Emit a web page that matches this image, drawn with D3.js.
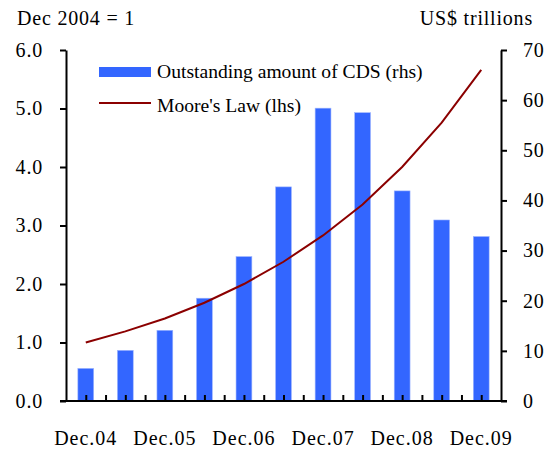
<!DOCTYPE html>
<html>
<head>
<meta charset="utf-8">
<script src="https://cdn.jsdelivr.net/npm/d3@7"></script>
<style>
  html, body { margin: 0; padding: 0; background: #fff; }
  svg text { font-family: "Liberation Serif", "Times New Roman", serif; fill: #000; }
</style>
</head>
<body>
<svg id="chart" width="553" height="453"></svg>
<script>
// Half-yearly observation periods
const periods = ["Dec.04", "Jun.05", "Dec.05", "Jun.06", "Dec.06", "Jun.07",
                 "Dec.07", "Jun.08", "Dec.08", "Jun.09", "Dec.09"];
// Outstanding amount of CDS, US$ trillions (right axis)
const cdsOutstanding = [6.5, 10.1, 14.1, 20.5, 28.8, 42.7, 58.4, 57.5, 41.9, 36.1, 32.8];
// Moore's Law index, Dec 2004 = 1 (left axis)
const mooresLaw = [1.00, 1.19, 1.41, 1.68, 2.00, 2.38, 2.83, 3.36, 4.00, 4.76, 5.66];
// Axis tick values and labels
const leftTicks = [0, 1, 2, 3, 4, 5, 6];
const rightTicks = [0, 10, 20, 30, 40, 50, 60, 70];
const xTickLabels = ["Dec.04", "Dec.05", "Dec.06", "Dec.07", "Dec.08", "Dec.09"];

const svg = d3.select("#chart");
const plot = { left: 66, right: 501, top: 50, bottom: 401 };
const fontSize = 20;
const spacing = 0.8;

const x = d3.scaleBand().domain(periods).range([plot.left, plot.right]).padding(0);
const yLeft = d3.scaleLinear().domain([0, 6]).range([plot.bottom, plot.top]);
const yRight = d3.scaleLinear().domain([0, 70]).range([plot.bottom, plot.top]);
// Continuous position along the category axis, used for half-period ticks
const xPos = d3.scaleLinear().domain([0, periods.length]).range([plot.left, plot.right]);

const barW = x.bandwidth() * 0.4;

// Bars: CDS outstanding
svg.append("g")
  .selectAll("rect")
  .data(periods)
  .join("rect")
  .attr("x", (d) => x(d) + (x.bandwidth() - barW) / 2)
  .attr("y", (d, i) => yRight(cdsOutstanding[i]))
  .attr("width", barW)
  .attr("height", (d, i) => plot.bottom - yRight(cdsOutstanding[i]))
  .attr("fill", "#3366ff")
  .attr("stroke", "#9db5ff")
  .attr("stroke-width", 0.6);

// Line: Moore's Law
const line = d3.line()
  .x((d, i) => x(periods[i]) + x.bandwidth() / 2)
  .y((d) => yLeft(d));
svg.append("path")
  .datum(mooresLaw)
  .attr("d", line)
  .attr("fill", "none")
  .attr("stroke", "#8b0000")
  .attr("stroke-width", 2);

// Left axis
const leftAxis = svg.append("g")
  .attr("transform", `translate(${plot.left},0)`)
  .call(d3.axisLeft(yLeft).tickValues(leftTicks).tickFormat(d3.format(".1f"))
    .tickSizeInner(6).tickSizeOuter(0).tickPadding(17));

// Right axis
const rightAxis = svg.append("g")
  .attr("transform", `translate(${plot.right},0)`)
  .call(d3.axisRight(yRight).tickValues(rightTicks).tickFormat(d3.format("d"))
    .tickSizeInner(6).tickSizeOuter(0).tickPadding(16));

// Bottom axis: short inward ticks every half period
const halfSteps = d3.range(1, periods.length * 2).map((k) => k / 2);
const bottomAxis = svg.append("g")
  .attr("transform", `translate(0,${plot.bottom})`)
  .call(d3.axisBottom(xPos).tickValues(halfSteps).tickFormat("")
    .tickSizeInner(-6).tickSizeOuter(0));

[leftAxis, rightAxis, bottomAxis].forEach((g) => {
  g.select(".domain").attr("stroke", "#000").attr("stroke-width", 2);
  g.selectAll(".tick line").attr("stroke", "#000").attr("stroke-width", 2);
  g.selectAll(".tick text")
    .attr("font-size", fontSize)
    .attr("letter-spacing", spacing)
    .attr("fill", "#000");
});
// Extend baseline across the zero ticks of both value axes
bottomAxis.select(".domain").attr("d", `M${plot.left - 6},0H${plot.right + 6}`);

// Category labels on every other period
svg.append("g")
  .selectAll("text")
  .data(xTickLabels)
  .join("text")
  .attr("x", (d) => x(d) + x.bandwidth() / 2)
  .attr("y", 445)
  .attr("text-anchor", "middle")
  .attr("font-size", fontSize)
  .attr("letter-spacing", 1)
  .text((d) => d);

// Axis unit titles
svg.append("text").attr("x", 17).attr("y", 25).attr("font-size", fontSize)
  .attr("letter-spacing", spacing).text("Dec 2004 = 1");
svg.append("text").attr("x", 533).attr("y", 25).attr("text-anchor", "end")
  .attr("font-size", fontSize).attr("letter-spacing", spacing).text("US$ trillions");

// Legend
const legend = svg.append("g");
legend.append("rect").attr("x", 99).attr("y", 67).attr("width", 52).attr("height", 10)
  .attr("fill", "#3366ff");
legend.append("text").attr("x", 157).attr("y", 78).attr("font-size", 19.6)
  .text("Outstanding amount of CDS (rhs)");
legend.append("line").attr("x1", 99).attr("x2", 151).attr("y1", 103).attr("y2", 103)
  .attr("stroke", "#8b0000").attr("stroke-width", 2);
legend.append("text").attr("x", 157).attr("y", 112).attr("font-size", 19.6)
  .text("Moore's Law (lhs)");
</script>
</body>
</html>
